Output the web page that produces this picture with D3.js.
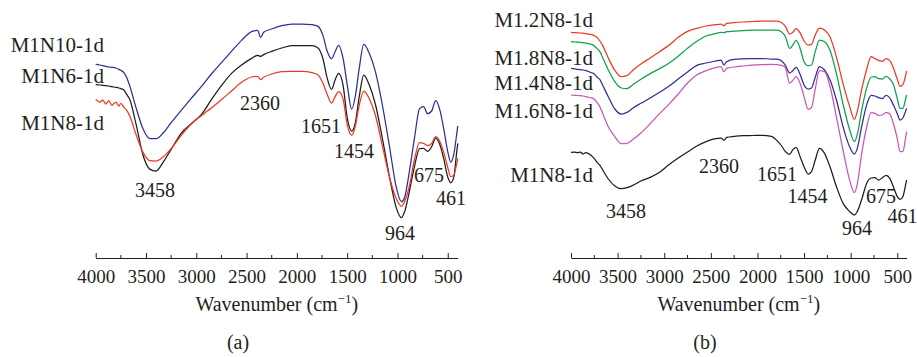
<!DOCTYPE html>
<html>
<head>
<meta charset="utf-8">
<script src="https://cdn.jsdelivr.net/npm/d3@7"></script>
<style>
  html, body { margin: 0; padding: 0; background: #fff; }
  svg { display: block; }
  text { font-family: "Liberation Serif", "DejaVu Serif", serif; fill: #231f20; }
</style>
</head>
<body>
<svg id="chart" width="917" height="357"></svg>
<script>
// ---------- DATA ----------
// Wavenumber grid (cm^-1), shared by every spectrum
const wavenumbers = [4000,3960,3930,3900,3870,3840,3800,3770,3750,3720,3690,3660,3600,3530,3460,3400,3330,3250,3150,3050,2950,2850,2750,2650,2550,2450,2390,2360,2330,2250,2150,2050,1950,1850,1790,1740,1700,1655,1620,1585,1540,1500,1455,1420,1380,1335,1280,1220,1150,1080,1010,960,930,880,830,780,740,700,660,620,580,540,500,470,440,410,400];

// Offset absorption signal (a.u., larger = lower on the plot), panel (a)
const a_M1N10 = [193,195,197,199,201,202,204,208,211,218,234,259,322,386,416,416,399,368,331,295,260,222,188,154,121,95,91,112,97,87,77,72,72,74,79,107,152,176,155,136,176,253,327,291,205,133,160,214,315,438,564,605,593,512,413,326,320,341,333,302,328,386,455,486,463,400,378];
const a_M1N6  = [253,255,256,257,258,260,262,264,266,270,284,299,371,465,508,513,487,448,400,371,344,299,257,220,195,175,166,169,164,154,144,137,137,137,144,177,233,268,240,220,257,352,393,370,290,225,255,312,415,529,625,653,636,572,498,446,445,454,440,414,433,476,531,548,532,454,430];
const a_M1N8  = [298,306,300,312,302,316,306,318,310,322,332,349,403,457,482,483,471,446,406,372,347,324,299,273,247,231,229,239,232,222,215,214,214,218,225,250,282,309,290,275,298,373,406,380,316,273,296,345,437,531,597,619,605,556,477,428,430,437,430,410,424,457,502,530,526,490,475];

// panel (b)
const b_M12N8 = [97,98,98.5,99,100,101,103,104.5,107,112,123,137,174,211,230,227,209,192,174,155,136,112,94,85,78,74,72.5,77,70,68,66,64.5,63,63,63,68,79,102,97,86,100,123,135,133,105,84,90,112,174,253,320,358,335,266,210,170,176,181,184,176,182,205,238,259,254,226,213];
const b_M18N8 = [125,126,126.5,127,128,129.5,132,134,138,146,155,173,210,245,264,266,253,238,221,206,190,169,145,124,108,101,97,98,95,93.5,92,90.5,90,90,90,96,110,145,135,121,147,185,197,195,155,120,125,152,224,314,390,425,405,328,266,231,230,236,237,229,237,254,296,325,325,296,285];
const b_M14N8 = [205,206.5,208,209,210,212,216,219,222,231,239,256,290,327,342,337,323,310,294,277,259,237,216,196,189,183,180,195,185,178,176.5,176,175.5,177,177,183,196,219,212,202,225,255,267,264,232,200,210,241,303,382,441,462,446,377,316,286,288,293,296,286,294,316,341,360,354,333,325];
const b_M16N8 = [285,286,286.5,287,288,290,292.5,294.5,298,308,320,340,380,410,431,430,417,399,371,341,313,282,249,225,212,203,200,215,205,201,198,195.5,194,193,194,196,203,250,241,230,252,290,328,322,267,212,215,261,355,453,541,578,553,457,384,338,340,346,345,337,342,372,416,455,454,412,395];
const b_M1N8  = [457,456,458,456,462,458,463,470,476,487,496,510,537,558,566,563,555,543,532,517,494,474,456,438,425,416,414,421,412,409,407,406.5,406,409,422,438,455,463,449,442,472,500,522,515,480,445,460,502,562,611,635,645,635,597,551,534,533,540,533,526,535,562,590,598,590,554,540];

// Series names and colours
const namesA = ["M1N10-1d", "M1N6-1d", "M1N8-1d"];
const namesB = ["M1.2N8-1d", "M1.8N8-1d", "M1.4N8-1d", "M1.6N8-1d", "M1N8-1d"];

// Axis tick values
const majorTicks = [4000, 3500, 3000, 2500, 2000, 1500, 1000, 500];
const minorTicks = [3750, 3250, 2750, 2250, 1750, 1250, 750];

// Peak annotations
const peakLabels = ["3458", "2360", "1651", "1454", "964", "675", "461"];

// ---------- DRAWING ----------
const svg = d3.select("#chart");
const COL = { red: "#ee3a24", blue: "#2e2f92", black: "#1f1c1d", green: "#10a04c", magenta: "#c657b6" };
const axisY = 258;

const panels = [
  {
    range: [95.7, 457.8],
    series: [
      { values: a_M1N10, color: COL.blue },
      { values: a_M1N6, color: COL.black },
      { values: a_M1N8, color: COL.red }
    ],
    names: namesA,
    nameX: 104, nameY: [51.7, 83.3, 130],
    peaks: [[155,197],[260,110],[321,133],[354,158],[400,240],[429,182],[451,205]],
    sub: "(a)", subX: 238
  },
  {
    range: [571, 906.6],
    series: [
      { values: b_M12N8, color: COL.red },
      { values: b_M18N8, color: COL.green },
      { values: b_M14N8, color: COL.blue },
      { values: b_M16N8, color: COL.magenta },
      { values: b_M1N8, color: COL.black }
    ],
    names: namesB,
    nameX: 593, nameY: [26.7, 65, 90, 118, 181.7],
    peaks: [[626,218],[719,173],[777,181],[807.5,203],[857,235],[881,203],[902.5,223]],
    sub: "(b)", subX: 705
  }
];

const y = d3.scaleLinear().domain([0, 780]).range([0, 260]);

panels.forEach(p => {
  const x = d3.scaleLinear().domain([4000, 400]).range(p.range);
  const g = svg.append("g");

  // spectra
  const line = d3.line()
    .x((d, i) => x(wavenumbers[i]))
    .y(d => y(d))
    .curve(d3.curveMonotoneX);
  p.series.forEach(s => {
    g.append("path")
      .attr("d", line(s.values))
      .attr("fill", "none")
      .attr("stroke", s.color)
      .attr("stroke-width", 1.25)
      .attr("stroke-linejoin", "round");
  });

  // axis
  const ax = g.append("g").attr("transform", `translate(0,${axisY})`);
  ax.call(d3.axisBottom(x).tickValues(majorTicks).tickSizeInner(-5).tickSizeOuter(0).tickFormat(d3.format("d")));
  ax.select(".domain").attr("stroke", "#231f20").attr("stroke-width", 1.1);
  ax.selectAll(".tick line").attr("stroke", "#231f20").attr("stroke-width", 1);
  ax.selectAll(".tick text")
    .attr("y", 25).attr("dy", null)
    .attr("font-size", 19)
    .attr("font-family", "Liberation Serif, DejaVu Serif, serif")
    .attr("fill", "#231f20");
  ax.selectAll(".minor")
    .data(minorTicks).enter().append("line")
    .attr("x1", d => x(d)).attr("x2", d => x(d))
    .attr("y1", 0).attr("y2", -3)
    .attr("stroke", "#231f20").attr("stroke-width", 1);

  // axis title
  const cx = (p.range[0] + p.range[1]) / 2;
  const t = g.append("text")
    .attr("x", cx).attr("y", 311)
    .attr("text-anchor", "middle")
    .attr("font-size", 20);
  t.append("tspan").text("Wavenumber (cm");
  t.append("tspan").text("\u22121").attr("font-size", 13).attr("dy", -8);
  t.append("tspan").text(")").attr("dy", 8);

  // sub caption
  g.append("text")
    .attr("x", p.subX).attr("y", 349)
    .attr("text-anchor", "middle")
    .attr("font-size", 20)
    .text(p.sub);

  // series names
  p.names.forEach((n, i) => {
    g.append("text")
      .attr("x", p.nameX).attr("y", p.nameY[i])
      .attr("text-anchor", "end")
      .attr("font-size", 21)
      .text(n);
  });

  // peak labels
  peakLabels.forEach((lab, i) => {
    g.append("text")
      .attr("x", p.peaks[i][0]).attr("y", p.peaks[i][1])
      .attr("text-anchor", "middle")
      .attr("font-size", 20)
      .text(lab);
  });
});
</script>
</body>
</html>
